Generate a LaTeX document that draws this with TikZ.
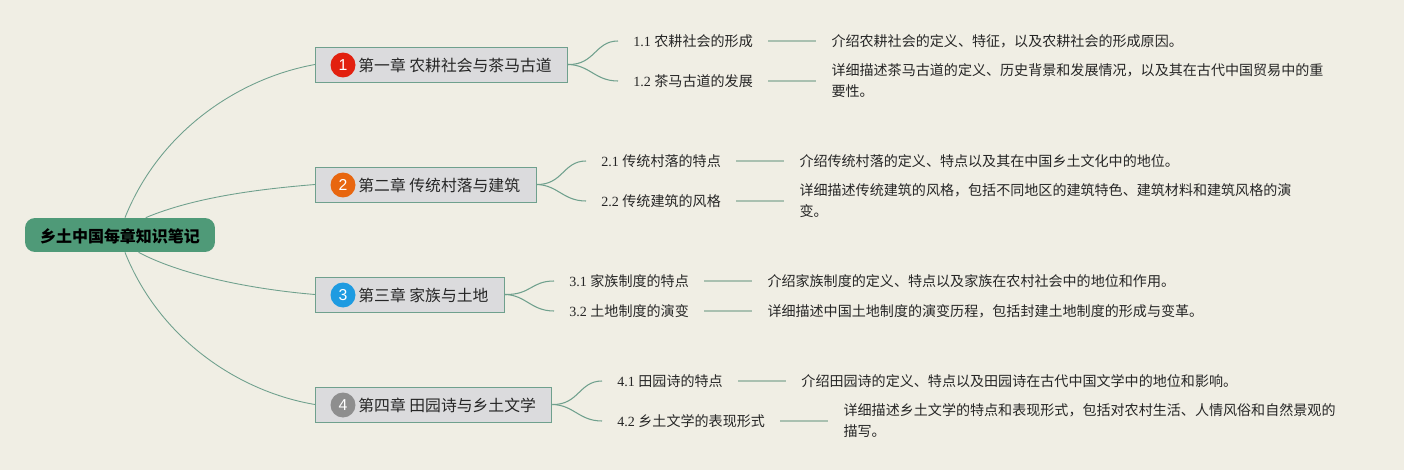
\documentclass[tikz,border=0pt]{standalone}
\usepackage{fontspec}
\setmainfont{Liberation Serif}
\newfontfamily\cjk{Noto Sans CJK SC}
\newfontfamily\numfont{Liberation Sans}
\usetikzlibrary{positioning}
\definecolor{paper}{HTML}{F0EEE4}
\definecolor{rootgreen}{HTML}{4F9A78}
\definecolor{chapgray}{HTML}{DBDBDD}
\definecolor{wire}{HTML}{6FA08D}
\definecolor{stub}{HTML}{A9C0B0}
\definecolor{badgered}{HTML}{E2200F}
\definecolor{badgeorange}{HTML}{E8660F}
\definecolor{badgeblue}{HTML}{1E9BE1}
\definecolor{badgegray}{HTML}{8E8E8E}
\tikzset{
    rootbox/.style={fill=rootgreen,rounded corners=0.2cm,minimum width=3.8cm,minimum height=0.68cm,inner sep=0pt,text height=9pt,text depth=1pt,font=\cjk\bfseries\fontsize{9.1}{11}\selectfont,text=black},
    chapbox/.style={draw=wire,fill=chapgray,line width=0.5pt,anchor=west,minimum height=0.7cm,inner ysep=0pt,inner xsep=0.32cm,text height=9pt,text depth=1pt,font=\cjk\fontsize{9}{11}\selectfont,text=black!85},
    badge/.style={circle,minimum size=0.5cm,inner sep=0pt,text=white,font=\numfont\fontsize{9}{11}\selectfont},
    subbox/.style={anchor=west,inner xsep=0.3cm,inner ysep=0pt,font=\fontsize{8}{10}\selectfont,text=black!85},
    leafbox/.style={inner xsep=0.3cm,inner ysep=0pt,align=left,font=\cjk\fontsize{8}{11.9}\selectfont,text=black!85},
    wirecurve/.style={draw=wire,line width=0.5pt},
    branchcurve/.style={draw=wire,line width=0.6pt},
    stubline/.style={draw=stub,line width=0.8pt}
}
\begin{document}
\begin{tikzpicture}[x=0.02cm,y=-0.02cm]
    \fill[paper] (0,0) rectangle (1404,470);
    \useasboundingbox (0,0) rectangle (1404,470);
    \node[rootbox] (root) at (120,235) {乡土中国每章知识笔记};

    % chapters
    \node[chapbox] (ch1) at (315,64.5) {\hspace*{0.54cm}第一章 农耕社会与茶马古道};
    \node[chapbox] (ch2) at (315,184.5) {\hspace*{0.54cm}第二章 传统村落与建筑};
    \node[chapbox] (ch3) at (315,294.5) {\hspace*{0.54cm}第三章 家族与土地};
    \node[chapbox] (ch4) at (315,404.5) {\hspace*{0.54cm}第四章 田园诗与乡土文学};
    \node[badge,fill=badgered] (badge1) at (343,65) {1};
    \node[badge,fill=badgeorange] (badge2) at (343,185) {2};
    \node[badge,fill=badgeblue] (badge3) at (343,295) {3};
    \node[badge,fill=badgegray] (badge4) at (343,405) {4};

    % sections
    \node[subbox] (sub11) at (618,41) {1.1 {\cjk 农耕社会的形成}};
    \node[subbox] (sub12) at (618,81) {1.2 {\cjk 茶马古道的发展}};
    \node[subbox] (sub21) at (586,161) {2.1 {\cjk 传统村落的特点}};
    \node[subbox] (sub22) at (586,201) {2.2 {\cjk 传统建筑的风格}};
    \node[subbox] (sub31) at (554,281) {3.1 {\cjk 家族制度的特点}};
    \node[subbox] (sub32) at (554,311) {3.2 {\cjk 土地制度的演变}};
    \node[subbox] (sub41) at (602,381) {4.1 {\cjk 田园诗的特点}};
    \node[subbox] (sub42) at (602,421) {4.2 {\cjk 乡土文学的表现形式}};

    % notes
    \node[leafbox,right=0.96cm of sub11] (leaf11) {介绍农耕社会的定义、特征，以及农耕社会的形成原因。};
    \node[leafbox,right=0.96cm of sub12] (leaf12) {详细描述茶马古道的定义、历史背景和发展情况，以及其在古代中国贸易中的重\\要性。};
    \node[leafbox,right=0.96cm of sub21] (leaf21) {介绍传统村落的定义、特点以及其在中国乡土文化中的地位。};
    \node[leafbox,right=0.96cm of sub22] (leaf22) {详细描述传统建筑的风格，包括不同地区的建筑特色、建筑材料和建筑风格的演\\变。};
    \node[leafbox,right=0.96cm of sub31] (leaf31) {介绍家族制度的定义、特点以及家族在农村社会中的地位和作用。};
    \node[leafbox,right=0.96cm of sub32] (leaf32) {详细描述中国土地制度的演变历程，包括封建土地制度的形成与变革。};
    \node[leafbox,right=0.96cm of sub41] (leaf41) {介绍田园诗的定义、特点以及田园诗在古代中国文学中的地位和影响。};
    \node[leafbox,right=0.96cm of sub42] (leaf42) {详细描述乡土文学的特点和表现形式，包括对农村生活、人情风俗和自然景观的\\描写。};

    % root to chapters
    \draw[wirecurve] (root.74) .. controls (160,130) and (240,78) .. (ch1.west);
    \draw[wirecurve] (root.34) .. controls (195,197) and (260,189) .. (ch2.west);
    \draw[wirecurve] (root.-43) .. controls (185,277) and (260,290) .. (ch3.west);
    \draw[wirecurve] (root.-74) .. controls (160,340) and (240,392) .. (ch4.west);

    % chapters to sections
    \draw[branchcurve] (ch1.east) .. controls (595,65) and (595,41) .. (sub11.west);
    \draw[branchcurve] (ch1.east) .. controls (590,65) and (595,81) .. (sub12.west);
    \draw[branchcurve] (ch2.east) .. controls (563,185) and (563,161) .. (sub21.west);
    \draw[branchcurve] (ch2.east) .. controls (558,185) and (563,201) .. (sub22.west);
    \draw[branchcurve] (ch3.east) .. controls (531,295) and (531,281) .. (sub31.west);
    \draw[branchcurve] (ch3.east) .. controls (526,295) and (531,311) .. (sub32.west);
    \draw[branchcurve] (ch4.east) .. controls (579,405) and (579,381) .. (sub41.west);
    \draw[branchcurve] (ch4.east) .. controls (574,405) and (579,421) .. (sub42.west);

    % sections to notes
    \draw[stubline] (sub11) -- (leaf11);
    \draw[stubline] (sub12) -- (leaf12);
    \draw[stubline] (sub21) -- (leaf21);
    \draw[stubline] (sub22) -- (leaf22);
    \draw[stubline] (sub31) -- (leaf31);
    \draw[stubline] (sub32) -- (leaf32);
    \draw[stubline] (sub41) -- (leaf41);
    \draw[stubline] (sub42) -- (leaf42);
\end{tikzpicture}
\end{document}
